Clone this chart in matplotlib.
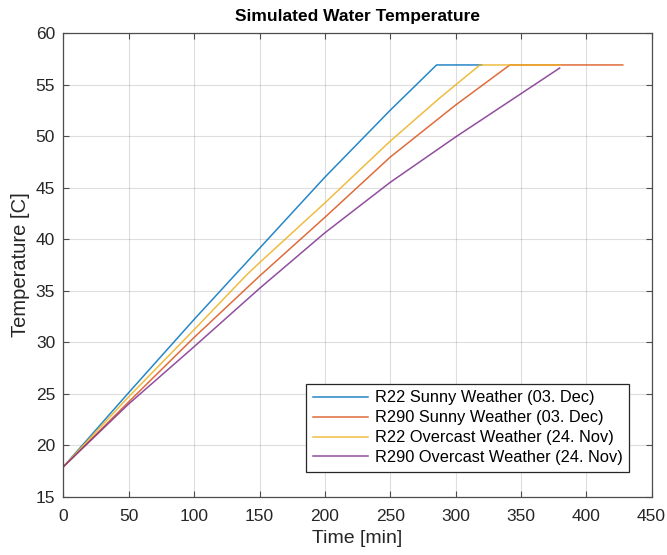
import numpy as np
import matplotlib
matplotlib.use("Agg")
import matplotlib.pyplot as plt

plt.rcParams['font.family'] = ['Liberation Sans', 'DejaVu Sans']

# time [min] and temperature [C]
t_r22_sunny = [0, 50, 100, 150, 200, 250, 285.5, 320]
T_r22_sunny = [17.9, 25.1, 32.2, 39.1, 46.0, 52.5, 56.9, 56.9]

t_r290_sunny = [0, 50, 100, 150, 200, 250, 300, 341.6, 428]
T_r290_sunny = [17.9, 24.2, 30.45, 36.4, 42.1, 47.95, 53.0, 56.9, 56.9]

t_r22_over = [0, 50, 100, 140, 150, 200, 250, 288, 318.7, 380]
T_r22_over = [17.9, 24.7, 31.2, 36.5, 37.7, 43.5, 49.5, 53.7, 56.9, 56.9]

t_r290_over = [0, 50, 100, 150, 200, 250, 300, 350, 379.7]
T_r290_over = [17.9, 24.0, 29.55, 35.2, 40.6, 45.5, 49.9, 54.1, 56.6]

labels = ['R22 Sunny Weather (03. Dec)', 'R290 Sunny Weather (03. Dec)',
          'R22 Overcast Weather (24. Nov)', 'R290 Overcast Weather (24. Nov)']
colors = ['#0072BD', '#D95319', '#EDB120', '#7E2F8E']

fig = plt.figure(figsize=(6.67, 5.55), dpi=100)
ax = fig.add_axes([0.0952, 0.1054, 0.8816, 0.8351])

series = [(t_r22_sunny, T_r22_sunny), (t_r290_sunny, T_r290_sunny),
          (t_r22_over, T_r22_over), (t_r290_over, T_r290_over)]
for (t, T), lab, c in zip(series, labels, colors):
    ax.plot(t, T, color=c, lw=1.1, alpha=0.85, label=lab)

ax.set_xlim(0, 450)
ax.set_ylim(15, 60)
ax.set_xticks(np.arange(0, 451, 50))
ax.set_yticks(np.arange(15, 61, 5))
ax.grid(True, color='#262626', alpha=0.15, lw=0.8)
ax.tick_params(direction='in', top=True, right=True, length=4, width=0.8,
               colors='#4d4d4d', labelcolor='#262626', labelsize=12.5)
ax.tick_params(axis='x', pad=9)
ax.tick_params(axis='y', pad=6)
for s in ax.spines.values():
    s.set_color('#4d4d4d')
    s.set_linewidth(0.9)

ax.set_xlabel('Time [min]', fontsize=14, color='#262626', labelpad=4)
ax.set_ylabel('Temperature [C]', fontsize=14.5, color='#262626', labelpad=4)
ax.set_title('Simulated Water Temperature', fontsize=12.5, fontweight='bold', pad=9)

leg = ax.legend(loc='lower right', bbox_to_anchor=(0.962, 0.0535), borderaxespad=0,
                fontsize=11.75, handlelength=3.4, fancybox=False, framealpha=1,
                edgecolor='#262626', borderpad=0.4, labelspacing=0.3, handletextpad=0.4)
leg.get_frame().set_linewidth(0.9)

fig.savefig('out.png', dpi=100)
